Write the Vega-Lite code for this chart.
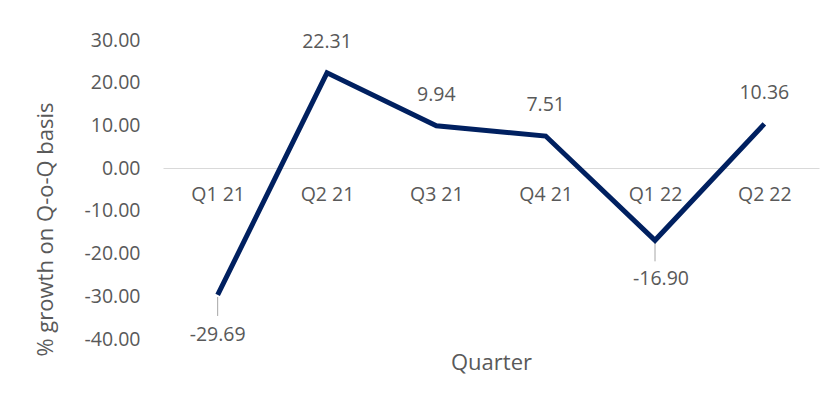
{
  "$schema": "https://vega.github.io/schema/vega-lite/v6.json",
  "width": 656,
  "height": 299,
  "autosize": {"type": "none"},
  "padding": {"left": 163, "top": 40, "right": 14, "bottom": 62},
  "background": "white",
  "config": {
    "view": {"stroke": null},
    "font": "Open Sans",
    "locale": {"number": {"decimal": ".", "thousands": ",", "grouping": [3], "currency": ["$", ""], "minus": "-"}},
    "axis": {"labelFont": "Open Sans", "titleFont": "Open Sans", "labelColor": "#595959", "titleColor": "#595959", "labelFontSize": 19.5, "titleFontSize": 22, "titleFontWeight": "normal"}
  },
  "data": {
    "values": [
      {"quarter": "Q1 21", "growth": -29.69},
      {"quarter": "Q2 21", "growth": 22.31},
      {"quarter": "Q3 21", "growth": 9.94},
      {"quarter": "Q4 21", "growth": 7.51},
      {"quarter": "Q1 22", "growth": -16.90},
      {"quarter": "Q2 22", "growth": 10.36}
    ]
  },
  "encoding": {
    "x": {
      "field": "quarter", "type": "ordinal",
      "sort": ["Q1 21", "Q2 21", "Q3 21", "Q4 21", "Q1 22", "Q2 22"],
      "scale": {"type": "point", "padding": 0.5},
      "axis": {
        "title": "Quarter", "labelAngle": 0, "offset": -171, "ticks": false,
        "domainColor": "#d9d9d9", "domainWidth": 1, "labelPadding": 17,
        "titleY": 194, "titleBaseline": "middle"
      }
    },
    "y": {
      "field": "growth", "type": "quantitative",
      "scale": {"domain": [-40, 30], "nice": false, "zero": false},
      "axis": {
        "title": "% growth on Q-o-Q basis", "values": [-40, -30, -20, -10, 0, 10, 20, 30],
        "format": ".2f", "grid": false, "domain": false, "ticks": false, "labelPadding": 23,
        "titleX": -118, "titleY": 189, "titleAngle": -90, "titleAlign": "center", "titleBaseline": "middle"
      }
    }
  },
  "layer": [
    {
      "transform": [{"filter": "datum.growth < 0"}],
      "mark": {"type": "rule", "color": "#a6a6a6", "strokeWidth": 1, "yOffset": 2, "y2Offset": 21},
      "encoding": {"y2": {"field": "growth"}}
    },
    {
      "mark": {"type": "line", "color": "#002060", "strokeWidth": 5, "strokeJoin": "miter", "strokeCap": "butt"}
    },
    {
      "transform": [{"filter": "datum.growth > 0"}],
      "mark": {"type": "text", "fontSize": 19.5, "color": "#595959", "dy": -31, "baseline": "middle"},
      "encoding": {"text": {"field": "growth", "type": "quantitative", "format": ".2f"}}
    },
    {
      "transform": [{"filter": "datum.quarter == 'Q1 21'"}],
      "mark": {"type": "text", "fontSize": 19.5, "color": "#595959", "dy": 40, "baseline": "middle"},
      "encoding": {"text": {"field": "growth", "type": "quantitative", "format": ".2f"}}
    },
    {
      "transform": [{"filter": "datum.quarter == 'Q1 22'"}],
      "mark": {"type": "text", "fontSize": 19.5, "color": "#595959", "dy": 39, "dx": 6, "baseline": "middle"},
      "encoding": {"text": {"field": "growth", "type": "quantitative", "format": ".2f"}}
    }
  ]
}
